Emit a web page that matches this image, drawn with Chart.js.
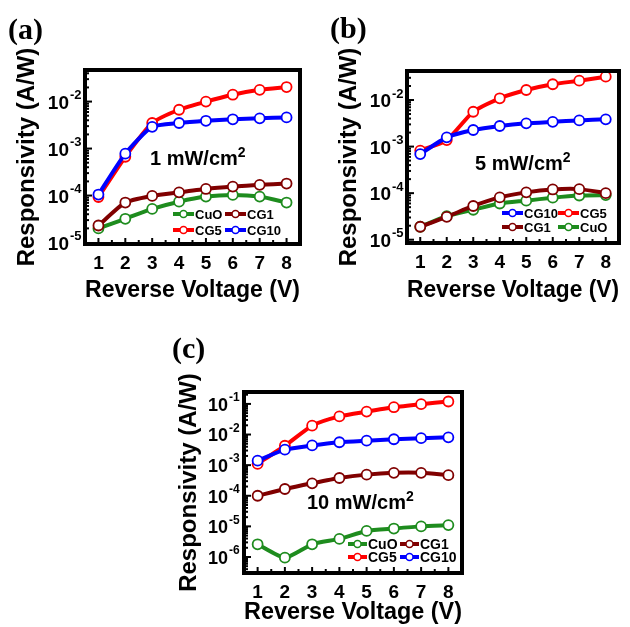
<!DOCTYPE html>
<html>
<head>
<meta charset="utf-8">
<script src="https://cdn.jsdelivr.net/npm/chart.js@4.4.1/dist/chart.umd.min.js"></script>
<style>
  body { margin: 0; background: #fff; }
  #wrap { position: relative; width: 630px; height: 627px; overflow: hidden; }
  canvas { position: absolute; }
  .tag { position: absolute; font: bold 30px 'Liberation Serif', 'Times New Roman', serif; line-height: 1; }
  .note { position: absolute; font: bold 20px Arial, 'Liberation Sans', sans-serif; line-height: 1; white-space: nowrap; }
  .note sup { font-size: 14px; vertical-align: 0; position: relative; top: -8px; }
</style>
</head>
<body>
<div id="wrap">
  <canvas id="chartA" width="318" height="315" style="left:0;top:0"></canvas>
  <canvas id="chartB" width="312" height="315" style="left:318px;top:0"></canvas>
  <canvas id="chartC" width="320" height="312" style="left:160px;top:315px"></canvas>
  <div class="tag" style="left:8px;top:14px">(a)</div>
  <div class="tag" style="left:330px;top:13px">(b)</div>
  <div class="tag" style="left:172px;top:333px">(c)</div>
  <div class="note" style="left:150px;top:148px">1 mW/cm<sup>2</sup></div>
  <div class="note" style="left:475px;top:153px">5 mW/cm<sup>2</sup></div>
  <div class="note" style="left:307px;top:492px">10 mW/cm<sup>2</sup></div>
</div>
<script>
// reverse voltage (V)
const voltages = [1, 2, 3, 4, 5, 6, 7, 8];

// (a) 1 mW/cm2
const cuoA  = [2.0e-5, 3.2e-5, 5.2e-5, 7.4e-5, 9.5e-5, 1.03e-4, 9.5e-5, 7.1e-5];
const cg1A  = [2.3e-5, 7.1e-5, 9.8e-5, 1.17e-4, 1.38e-4, 1.55e-4, 1.69e-4, 1.8e-4];
const cg5A  = [9.3e-5, 6.7e-4, 3.5e-3, 6.7e-3, 1.0e-2, 1.4e-2, 1.78e-2, 2.04e-2];
const cg10A = [1.05e-4, 7.8e-4, 2.9e-3, 3.5e-3, 3.9e-3, 4.2e-3, 4.4e-3, 4.6e-3];

// (b) 5 mW/cm2
const cuoB  = [1.9e-5, 3.2e-5, 4.4e-5, 6.0e-5, 6.9e-5, 8.0e-5, 8.9e-5, 9.1e-5];
const cg1B  = [1.9e-5, 3.1e-5, 5.3e-5, 8.1e-5, 1.04e-4, 1.2e-4, 1.22e-4, 1.0e-4];
const cg5B  = [8.2e-4, 1.38e-3, 5.6e-3, 1.09e-2, 1.64e-2, 2.18e-2, 2.6e-2, 3.17e-2];
const cg10B = [6.9e-4, 1.58e-3, 2.27e-3, 2.77e-3, 3.16e-3, 3.4e-3, 3.65e-3, 3.85e-3];

// (c) 10 mW/cm2
const cuoC  = [2.6e-6, 9.5e-7, 2.6e-6, 3.9e-6, 7.1e-6, 8.5e-6, 1.0e-5, 1.1e-5];
const cg1C  = [1.0e-4, 1.66e-4, 2.55e-4, 3.8e-4, 4.9e-4, 5.6e-4, 5.6e-4, 4.7e-4];
const cg5C  = [1.1e-3, 4.3e-3, 1.95e-2, 3.9e-2, 5.6e-2, 7.8e-2, 9.8e-2, 1.2e-1];
const cg10C = [1.4e-3, 3.2e-3, 4.4e-3, 5.6e-3, 6.3e-3, 7.0e-3, 7.6e-3, 8.1e-3];

// decade tick labels (exponents)
const decadesAB = [-5, -4, -3, -2];
const decadesC  = [-6, -5, -4, -3, -2, -1];

const names  = ['CuO', 'CG1', 'CG5', 'CG10'];
const colors = ['#1e8c1e', '#800000', '#ff0000', '#0000ff'];

Chart.defaults.font.family = 'Arial, "Liberation Sans", sans-serif';
Chart.defaults.color = '#000';

// box, inward ticks, 10^n labels and the inset legend
const framePlugin = {
  id: 'frame',
  afterDatasetsDraw(chart, args, opts) {
    const { ctx, chartArea: a, scales: { x, y } } = chart;
    ctx.save();
    ctx.strokeStyle = '#000';
    ctx.lineWidth = 2;
    x.ticks.forEach(t => {
      if (t.value <= x.min || t.value >= x.max) return;
      const px = x.getPixelForValue(t.value);
      const len = Number.isInteger(t.value) ? 6 : 4;
      ctx.beginPath(); ctx.moveTo(px, a.bottom); ctx.lineTo(px, a.bottom - len); ctx.stroke();
    });
    y.ticks.forEach(t => {
      const e = Math.floor(Math.log10(t.value) + 1e-9);
      const m = t.value / Math.pow(10, e);
      if (Math.abs(m - Math.round(m)) > 1e-6) return;
      const py = y.getPixelForValue(t.value);
      if (py <= a.top + 2 || py >= a.bottom - 2) return;
      const len = Math.round(m) === 1 ? 7 : 4;
      ctx.beginPath(); ctx.moveTo(a.left, py); ctx.lineTo(a.left + len, py); ctx.stroke();
    });
    ctx.lineWidth = 4;
    ctx.strokeRect(a.left, a.top, a.right - a.left, a.bottom - a.top);

    // y labels 10^n
    ctx.fillStyle = '#000';
    ctx.textBaseline = 'middle';
    opts.decades.forEach(e => {
      const py = y.getPixelForValue(Math.pow(10, e));
      ctx.font = 'bold ' + opts.labelSize + 'px Arial, "Liberation Sans", sans-serif';
      ctx.textAlign = 'right';
      const bx = a.left - opts.gap;
      ctx.fillText('10', bx, py + 2);
      ctx.font = 'bold ' + opts.expSize + 'px Arial, "Liberation Sans", sans-serif';
      ctx.textAlign = 'left';
      ctx.fillText('-' + Math.abs(e), bx + 1, py - 6);
    });

    // legend
    ctx.textAlign = 'left';
    ctx.font = 'bold ' + opts.legendSize + 'px Arial, "Liberation Sans", sans-serif';
    opts.legend.forEach(item => {
      const ds = chart.data.datasets[item.ds];
      const L = opts.legendLen;
      ctx.strokeStyle = ds.borderColor;
      ctx.lineWidth = 4;
      ctx.beginPath(); ctx.moveTo(item.x, item.y); ctx.lineTo(item.x + L, item.y); ctx.stroke();
      ctx.lineWidth = 1.5;
      ctx.fillStyle = '#fff';
      ctx.beginPath(); ctx.arc(item.x + L / 2, item.y, 3.5, 0, Math.PI * 2); ctx.fill(); ctx.stroke();
      ctx.fillStyle = '#000';
      ctx.fillText(ds.label, item.x + L + 1, item.y + 1);
    });
    ctx.restore();
  }
};

function series(vals, i) {
  return {
    label: names[i],
    data: voltages.map((v, k) => ({ x: v, y: vals[k] })),
    borderColor: colors[i],
    backgroundColor: colors[i],
    borderWidth: 4,
    pointRadius: 5,
    pointBorderWidth: 1.8,
    pointBackgroundColor: '#fff',
    pointBorderColor: colors[i],
    tension: 0.2,
    order: 3 - i
  };
}

function makePanel(id, sets, p) {
  return new Chart(document.getElementById(id), {
    type: 'line',
    data: { datasets: sets.map((s, i) => series(s, i)) },
    plugins: [framePlugin],
    options: {
      responsive: false,
      animation: false,
      devicePixelRatio: 1,
      layout: { padding: { left: 0, top: p.top, right: p.right, bottom: 0 } },
      plugins: {
        legend: { display: false },
        tooltip: { enabled: false },
        frame: {
          decades: p.decades, gap: p.gap, labelSize: p.labelSize, expSize: p.expSize,
          legend: p.legend, legendLen: p.legendLen, legendSize: p.legendSize
        }
      },
      scales: {
        x: {
          type: 'linear', min: 0.5, max: 8.5,
          grid: { display: false, drawTicks: false },
          border: { display: false },
          ticks: {
            stepSize: 0.5, autoSkip: false, maxRotation: 0, padding: p.xpad,
            font: { size: 19, weight: 'bold' },
            callback: v => Number.isInteger(v) ? String(v) : ''
          },
          title: { display: true, text: 'Reverse Voltage (V)', font: { size: 24, weight: 'bold' }, padding: { top: 0, bottom: p.xtb } },
          afterFit: s => { s.height = p.xh; }
        },
        y: {
          type: 'logarithmic', min: p.ymin, max: p.ymax,
          grid: { display: false, drawTicks: false },
          border: { display: false },
          ticks: { display: false },
          title: { display: true, text: 'Responsivity (A/W)', font: { size: 24, weight: 'bold' }, padding: { top: p.ytp, bottom: 0 } },
          afterFit: s => { s.width = p.yw; }
        }
      }
    }
  });
}

makePanel('chartA', [cuoA, cg1A, cg5A, cg10A], {
  top: 70, right: 18, yw: 85, xh: 71, ytp: 13, xtb: 10, xpad: 8,
  ymin: 9.3e-6, ymax: 0.047, decades: decadesAB, gap: 16, labelSize: 19, expSize: 13,
  legendLen: 21, legendSize: 13,
  legend: [
    { ds: 0, x: 173, y: 214 }, { ds: 1, x: 225, y: 214 },
    { ds: 2, x: 173, y: 230 }, { ds: 3, x: 225, y: 230 }
  ]
});

makePanel('chartB', [cuoB, cg1B, cg5B, cg10B], {
  top: 71, right: 11, yw: 89, xh: 72, ytp: 17, xtb: 10, xpad: 8,
  ymin: 8.5e-6, ymax: 0.042, decades: decadesAB, gap: 16, labelSize: 19, expSize: 13,
  legendLen: 21, legendSize: 13,
  legend: [
    { ds: 3, x: 184, y: 213 }, { ds: 2, x: 240, y: 213 },
    { ds: 1, x: 184, y: 227 }, { ds: 0, x: 240, y: 227 }
  ]
});

makePanel('chartC', [cuoC, cg1C, cg5C, cg10C], {
  top: 77, right: 18, yw: 84, xh: 54, ytp: 15, xtb: 0, xpad: 8,
  ymin: 3.0e-7, ymax: 0.245, decades: decadesC, gap: 16, labelSize: 18, expSize: 12,
  legendLen: 19, legendSize: 14,
  legend: [
    { ds: 0, x: 188, y: 229 }, { ds: 1, x: 240, y: 229 },
    { ds: 2, x: 188, y: 242 }, { ds: 3, x: 240, y: 242 }
  ]
});
</script>
</body>
</html>
